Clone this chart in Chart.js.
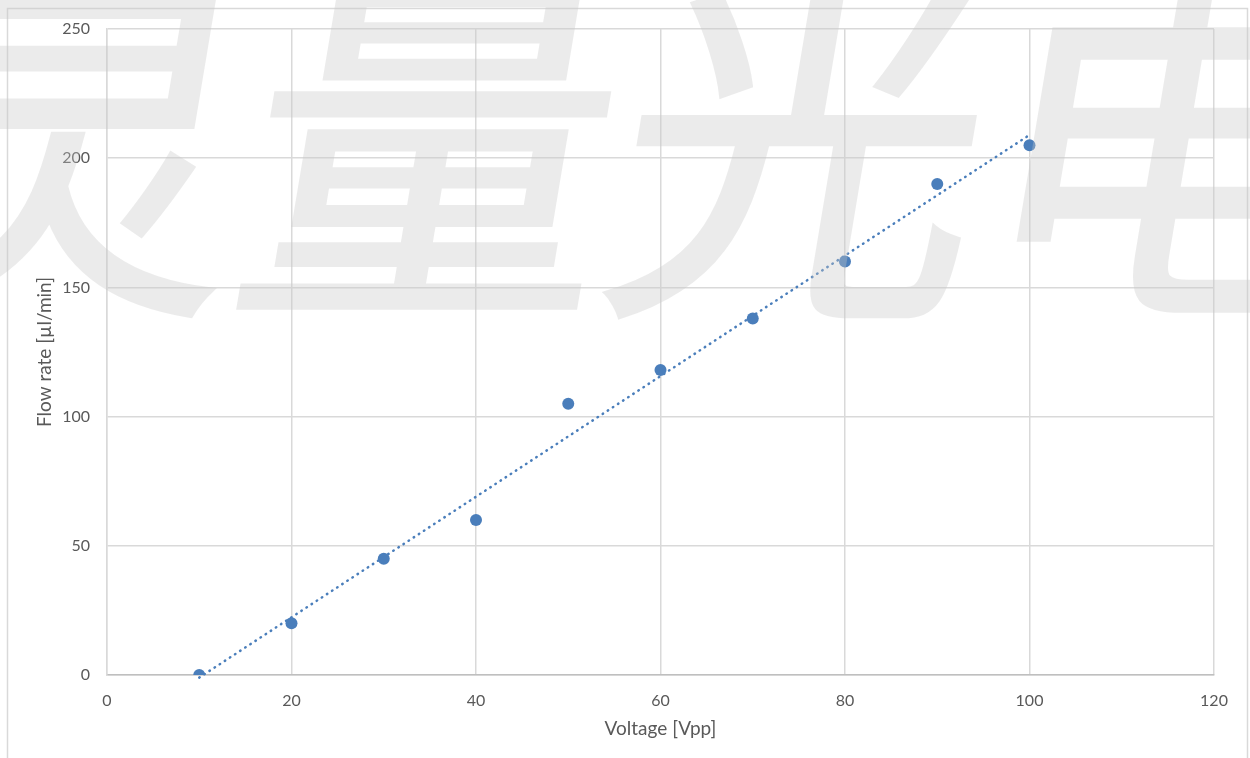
<!DOCTYPE html>
<html>
<head>
<meta charset="utf-8">
<script src="https://cdn.jsdelivr.net/npm/chart.js@4/dist/chart.umd.min.js"></script>
<style>
  html, body { margin: 0; padding: 0; background: #ffffff; }
  #wrap { position: relative; width: 1250px; height: 758px; }
</style>
</head>
<body>
<div id="wrap"><canvas id="flowChart" width="1250" height="758"></canvas></div>
<script>
// Measured points (Voltage [Vpp] -> Flow rate [µl/min])
const voltage = [10, 20, 30, 40, 50, 60, 70, 80, 90, 100];
const flowRate = [0, 20, 45, 60, 105, 118, 138, 160, 190, 205];

// Linear trendline end points
const trendVoltage = [10, 100];
const trendFlow = [-1, 209];

const xTicks = [0, 20, 40, 60, 80, 100, 120];
const yTicks = [0, 50, 100, 150, 200, 250];

const watermarkText = '灵量光电';

const labelColor = '#595959';
const gridColor = '#d9d9d9';
const pointColor = '#4a7ebb';

// frame around the chart + watermark over everything
const decorPlugin = {
    id: 'decor',
    beforeDraw(chart) {
        const ctx = chart.ctx;
        ctx.save();
        ctx.fillStyle = '#ffffff';
        ctx.fillRect(0, 0, chart.width, chart.height);
        ctx.strokeStyle = gridColor;
        ctx.lineWidth = 1.5;
        ctx.strokeRect(7.5, 8.5, 1240, 800);
        ctx.restore();
    },
    afterDraw(chart) {
        // draw the text opaque on its own layer, then lay it over with alpha
        const layer = document.createElement('canvas');
        layer.width = chart.width;
        layer.height = chart.height;
        const lc = layer.getContext('2d');
        const base = 287;
        const k = 0.167;
        lc.setTransform(1, 0, -k, 1, k * base, 0);
        lc.font = '370px "Noto Sans CJK SC"';
        lc.textBaseline = 'alphabetic';
        lc.textAlign = 'left';
        lc.fillStyle = '#c8c8c8';
        lc.strokeStyle = '#c8c8c8';
        lc.lineWidth = 5;
        lc.lineJoin = 'miter';
        lc.fillText(watermarkText, -145, base);
        lc.strokeText(watermarkText, -145, base);

        const ctx = chart.ctx;
        ctx.save();
        ctx.globalAlpha = 0.35;
        ctx.drawImage(layer, 0, 0);
        ctx.restore();
    }
};

const ctx = document.getElementById('flowChart');
new Chart(ctx, {
    type: 'scatter',
    data: {
        datasets: [
            {
                label: 'Flow rate',
                data: voltage.map((v, i) => ({ x: v, y: flowRate[i] })),
                backgroundColor: pointColor,
                borderWidth: 0,
                pointRadius: 6,
                order: 1
            },
            {
                label: 'Linear trend',
                type: 'line',
                data: trendVoltage.map((v, i) => ({ x: v, y: trendFlow[i] })),
                borderColor: pointColor,
                borderWidth: 2.5,
                borderDash: [0.5, 5.6],
                borderCapStyle: 'round',
                pointRadius: 0,
                fill: false,
                clip: false,
                order: 2
            }
        ]
    },
    options: {
        responsive: false,
        animation: false,
        layout: { padding: { left: 0, right: 36, top: 29, bottom: 0 } },
        plugins: {
            legend: { display: false },
            tooltip: { enabled: false }
        },
        scales: {
            x: {
                type: 'linear',
                min: 0,
                max: 120,
                afterBuildTicks: (scale) => { scale.ticks = xTicks.map(v => ({ value: v })); },
                afterFit: (scale) => { scale.height = 83; },
                grid: { color: gridColor, lineWidth: 1.5, drawTicks: false },
                border: { color: '#bfbfbf', width: 1.5 },
                ticks: { color: labelColor, padding: 16, font: { family: 'Lato', size: 16 } },
                title: {
                    display: true,
                    text: 'Voltage [Vpp]',
                    color: labelColor,
                    font: { family: 'Lato', size: 19 },
                    padding: { top: 0, bottom: 17.5 }
                }
            },
            y: {
                type: 'linear',
                min: 0,
                max: 250,
                afterBuildTicks: (scale) => { scale.ticks = yTicks.map(v => ({ value: v })); },
                afterFit: (scale) => { scale.width = 107; },
                grid: { color: gridColor, lineWidth: 1.5, drawTicks: false },
                border: { color: gridColor, width: 1.5 },
                ticks: { color: labelColor, padding: 17, font: { family: 'Lato', size: 16 } },
                title: {
                    display: true,
                    text: 'Flow rate [µl/min]',
                    color: labelColor,
                    font: { family: 'Lato', size: 19 },
                    padding: { top: 33.5, bottom: 0 }
                }
            }
        }
    },
    plugins: [decorPlugin]
});
</script>
</body>
</html>
